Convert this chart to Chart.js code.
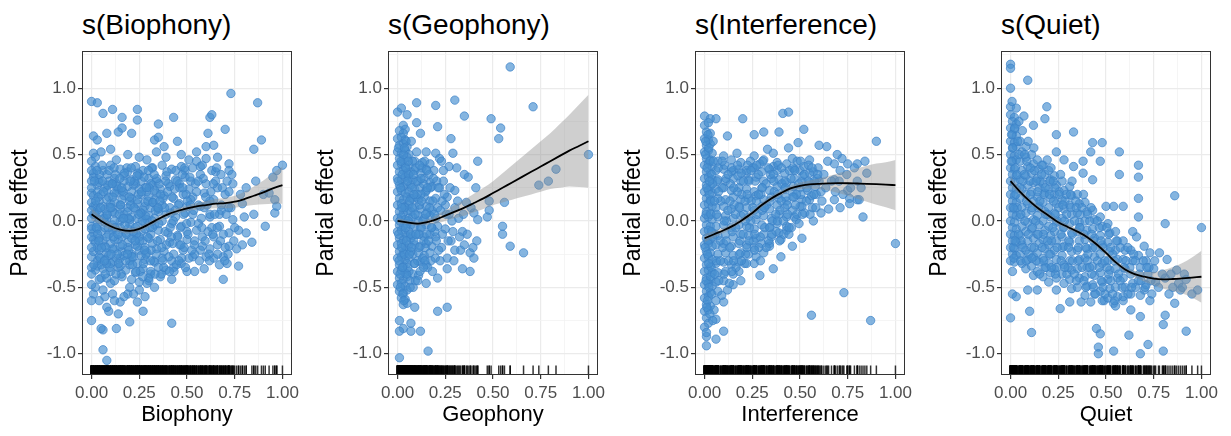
<!DOCTYPE html>
<html>
<head>
<meta charset="utf-8">
<script src="https://cdn.jsdelivr.net/npm/chart.js@4.4.1/dist/chart.umd.min.js"></script>
<style>
  body { margin: 0; background: #fff; width: 1231px; height: 436px; overflow: hidden; position: relative; font-family: "Liberation Sans", Arial, sans-serif; }
  .panel { position: absolute; top: 0; width: 300px; height: 436px; }
  .panel canvas { position: absolute; left: 0; top: 0; }
  .ttl { position: absolute; left: 82px; top: 11px; font-size: 28px; line-height: 28px; color: #000; white-space: nowrap; }
</style>
</head>
<body>
<div class="panel" style="left:0px"><div class="ttl" id="t1"></div><canvas id="c1" width="300" height="436"></canvas></div>
<div class="panel" style="left:306px"><div class="ttl" id="t2"></div><canvas id="c2" width="300" height="436"></canvas></div>
<div class="panel" style="left:613px"><div class="ttl" id="t3"></div><canvas id="c3" width="300" height="436"></canvas></div>
<div class="panel" style="left:919px"><div class="ttl" id="t4"></div><canvas id="c4" width="300" height="436"></canvas></div>
<script>
// panel texts
const panelTitles = ['s(Biophony)', 's(Geophony)', 's(Interference)', 's(Quiet)'];
const xTitles = ['Biophony', 'Geophony', 'Interference', 'Quiet'];
const yTitle = 'Partial effect';

// axes
const xTickVals = [0, 0.25, 0.5, 0.75, 1];
const xTickLabels = ['0.00', '0.25', '0.50', '0.75', '1.00'];
const xMinorVals = [0.125, 0.375, 0.625, 0.875];
const yTickVals = [-1, -0.5, 0, 0.5, 1];
const yTickLabels = ['-1.0', '-0.5', '0.0', '0.5', '1.0'];
const yMinorVals = [-0.75, -0.25, 0.25, 0.75, 1.25];

// smooth fits (read at every 0.05)
const smoothX = [0,0.05,0.1,0.15,0.2,0.25,0.3,0.35,0.4,0.45,0.5,0.55,0.6,0.65,0.7,0.75,0.8,0.85,0.9,0.95,1];

const bioFit   = [0.05,0.0,-0.04,-0.065,-0.075,-0.06,-0.025,0.015,0.05,0.075,0.095,0.11,0.12,0.13,0.135,0.145,0.165,0.19,0.215,0.245,0.27];
const bioUpper = [0.095,0.03,-0.015,-0.045,-0.055,-0.04,-0.005,0.035,0.07,0.095,0.115,0.135,0.15,0.165,0.175,0.19,0.22,0.26,0.305,0.36,0.41];
const bioLower = [0.005,-0.03,-0.065,-0.085,-0.095,-0.08,-0.045,-0.005,0.03,0.055,0.075,0.085,0.09,0.095,0.095,0.1,0.11,0.12,0.125,0.13,0.13];

const geoFit   = [0,-0.01,-0.02,-0.01,0.01,0.04,0.07,0.1,0.135,0.17,0.21,0.25,0.29,0.33,0.37,0.41,0.45,0.49,0.53,0.565,0.6];
const geoUpper = [0.02,0.005,-0.005,0.01,0.04,0.08,0.12,0.16,0.205,0.25,0.3,0.36,0.42,0.48,0.54,0.6,0.66,0.73,0.8,0.875,0.95];
const geoLower = [-0.02,-0.025,-0.035,-0.03,-0.02,0.0,0.02,0.04,0.065,0.09,0.12,0.14,0.16,0.18,0.2,0.22,0.24,0.25,0.26,0.255,0.25];

const intFit   = [-0.13,-0.1,-0.07,-0.035,0.01,0.06,0.12,0.17,0.21,0.245,0.265,0.275,0.28,0.283,0.285,0.284,0.282,0.28,0.277,0.273,0.27];
const intUpper = [-0.1,-0.075,-0.05,-0.015,0.03,0.08,0.14,0.19,0.23,0.265,0.29,0.305,0.32,0.338,0.36,0.379,0.397,0.415,0.432,0.443,0.46];
const intLower = [-0.16,-0.125,-0.09,-0.055,-0.01,0.04,0.1,0.15,0.19,0.225,0.24,0.245,0.24,0.228,0.21,0.189,0.167,0.145,0.122,0.103,0.08];

const quietFit   = [0.3,0.22,0.15,0.09,0.04,-0.01,-0.045,-0.08,-0.12,-0.175,-0.24,-0.31,-0.365,-0.4,-0.42,-0.435,-0.44,-0.437,-0.432,-0.426,-0.42];
const quietUpper = [0.335,0.245,0.17,0.11,0.06,0.01,-0.025,-0.06,-0.1,-0.155,-0.22,-0.29,-0.345,-0.375,-0.385,-0.385,-0.37,-0.347,-0.317,-0.276,-0.225];
const quietLower = [0.265,0.195,0.13,0.07,0.02,-0.03,-0.065,-0.1,-0.14,-0.195,-0.26,-0.33,-0.385,-0.425,-0.455,-0.485,-0.51,-0.527,-0.547,-0.576,-0.615];

// partial residuals [x, y]
const bioPoints = [
  [0,0.9],[0.03,0.89],[0.06,0.81],[0.11,0.84],[0.16,0.78],[0.24,0.84],[0.24,0.76],[0.35,0.73],[0.43,0.78],[0.62,0.78],[0.63,0.8],[0.73,0.96],[0.87,0.89],[0.89,0.61],[0.85,0.54],
  [0.97,0.38],[1,0.42],[0.95,0.33],[0.9,0.2],[0.93,0.21],[0.96,0.16],[0.97,0.11],[0.96,0.06],[0.91,-0.04],[0.85,0.05],[0.81,0.25],[0.86,0.3],[0.84,-0.16],[0.77,-0.34],[0.69,-0.44],
  [0.71,-0.32],[0.67,-0.33],[0.59,-0.36],[0.54,-0.38],[0.5,-0.38],[0.42,-0.44],[0.42,-0.77],[0.2,-0.76],[0.13,-0.81],[0.08,-1.05],[0.06,-0.97],[0.06,-0.82],[0.05,-0.81],[0,-0.75],
  [0.09,-0.68],[0.08,-0.65],[0.14,-0.7],[0.27,-0.68],[0.15,-0.61],[0.19,-0.55],[0.24,-0.61],[0.33,-0.5],[0.04,-0.6],[0.02,-0.5],[0.07,-0.57],[0.11,-0.55],[0.12,-0.6],[0.17,-0.57],[0.28,-0.57],[0.3,-0.45],
  [0.01,0.64],[0.03,0.61],[0.08,0.66],[0.14,0.67],[0.16,0.7],[0.21,0.66],[0.33,0.61],[0.35,0.63],[0.38,0.56],[0.45,0.6],[0.61,0.66],[0.7,0.69],[0.6,0.56],[0.64,0.57],[0.55,0.52],
  [0.66,0.48],[0.72,0.43],[0.72,0.38],[0.74,0.28],[0.71,0.3],[0.65,0.37],[0.78,0.2],[0.79,0.13],[0.8,0.03],[0.74,0.01],[0.77,-0.07],[0.72,-0.09],[0.81,-0.09],[0.79,-0.18],[0.76,-0.21],
  [0.72,-0.19],[0.69,-0.27],[0.64,-0.28],[0.62,-0.21],[0.58,-0.19],[0.66,-0.18],[0.67,-0.04],[0.68,0.08],[0.64,0.16],[0.59,0.21],[0.57,0.11],[0.62,0.03],[0.55,-0.07],[0.5,-0.14],
  [0.53,-0.27],[0.47,-0.32],[0.43,-0.35],[0.39,-0.37],[0.36,-0.42],[0.31,-0.4],[0.29,-0.47],[0.25,-0.52],[0.22,-0.55],[0.2,-0.5],[0.1,-0.47],[0.06,-0.52],[0.05,-0.43],[0.03,-0.34],
  [0,-0.27],[0.01,-0.14],[0,-0.04],[0.01,0.11],[0,0.21],[0.01,0.36],[0.01,0.51],[0.02,0.48],[0.05,0.52],[0.1,0.54],[0.13,0.46],[0.19,0.5],[0.25,0.48],[0.29,0.46],[0.34,0.52],
  [0.39,0.48],[0.47,0.5],[0.51,0.46],[0.53,0.4],[0.57,0.41],[0.49,0.38],
  [0.02,0.41],[0.06,0.38],[0.1,0.42],[0.15,0.39],[0.19,0.37],[0.23,0.41],[0.27,0.38],[0.32,0.4],[0.37,0.42],[0.42,0.39],[0.47,0.41],
  [0.01,0.33],[0.04,0.31],[0.08,0.35],[0.12,0.32],[0.17,0.34],[0.21,0.31],[0.25,0.35],[0.3,0.32],[0.34,0.3],[0.39,0.34],[0.44,0.31],[0.49,0.33],
  [0.03,0.27],[0.07,0.25],[0.11,0.28],[0.14,0.24],[0.19,0.26],[0.23,0.28],[0.28,0.25],[0.32,0.27],[0.36,0.24],[0.41,0.26],[0.46,0.28],[0.51,0.24],
  [0.01,0.19],[0.05,0.2],[0.09,0.18],[0.13,0.21],[0.17,0.19],[0.21,0.17],[0.26,0.2],[0.3,0.18],[0.34,0.21],[0.38,0.19],[0.43,0.17],[0.48,0.2],[0.53,0.18],
  [0.02,0.12],[0.06,0.11],[0.1,0.13],[0.15,0.12],[0.19,0.1],[0.24,0.13],[0.28,0.11],[0.32,0.14],[0.37,0.12],[0.41,0.1],[0.46,0.13],[0.5,0.11],
  [0.01,0.05],[0.04,0.06],[0.08,0.04],[0.12,0.06],[0.17,0.05],[0.21,0.03],[0.26,0.06],[0.3,0.04],[0.35,0.07],[0.39,0.05],[0.44,0.03],[0.49,0.06],
  [0.03,-0.02],[0.07,-0.01],[0.11,-0.03],[0.15,0],[0.2,-0.02],[0.24,-0.04],[0.28,-0.01],[0.33,-0.03],[0.37,0],[0.42,-0.02],[0.47,-0.04],[0.52,-0.01],
  [0.01,-0.09],[0.05,-0.08],[0.09,-0.1],[0.13,-0.07],[0.18,-0.09],[0.22,-0.11],[0.26,-0.08],[0.31,-0.1],[0.35,-0.07],[0.4,-0.09],[0.45,-0.11],[0.5,-0.08],
  [0.02,-0.16],[0.06,-0.15],[0.1,-0.17],[0.14,-0.14],[0.19,-0.16],[0.23,-0.18],[0.27,-0.15],[0.32,-0.17],[0.36,-0.14],[0.41,-0.16],[0.46,-0.18],
  [0.01,-0.23],[0.04,-0.22],[0.08,-0.24],[0.12,-0.21],[0.16,-0.23],[0.21,-0.25],[0.25,-0.22],[0.29,-0.24],[0.34,-0.21],[0.38,-0.23],[0.43,-0.25],[0.48,-0.22],
  [0.03,-0.3],[0.07,-0.29],[0.11,-0.31],[0.15,-0.28],[0.2,-0.3],[0.24,-0.32],[0.28,-0.29],[0.33,-0.31],[0.37,-0.28],[0.42,-0.3],
  [0.02,-0.37],[0.06,-0.36],[0.1,-0.38],[0.14,-0.35],[0.18,-0.37],[0.23,-0.39],[0.27,-0.36],[0.31,-0.38],[0.35,-0.35],
  [0.04,-0.44],[0.08,-0.43],[0.12,-0.45],[0.16,-0.42],[0.21,-0.44],[0.25,-0.46],[0.3,-0.43],
  [0.04,0.29],[0.09,0.3],[0.13,0.28],[0.17,0.3],[0.22,0.27],[0.26,0.3],[0.31,0.28],
  [0.03,0.22],[0.08,0.23],[0.12,0.21],[0.16,0.23],[0.21,0.22],[0.25,0.24],[0.29,0.22],[0.33,0.23],
  [0.04,0.15],[0.08,0.16],[0.12,0.14],[0.16,0.16],[0.2,0.15],[0.24,0.16],[0.28,0.14],[0.33,0.16],
  [0.03,0.08],[0.07,0.09],[0.11,0.07],[0.15,0.09],[0.19,0.07],[0.23,0.09],[0.27,0.08],[0.31,0.1],[0.35,0.09],
  [0.04,0.01],[0.08,0.02],[0.12,0],[0.16,0.02],[0.2,0.01],[0.24,0.02],[0.29,0.01],[0.33,0.02],
  [0.03,-0.06],[0.07,-0.05],[0.11,-0.07],[0.15,-0.05],[0.19,-0.06],[0.23,-0.05],[0.28,-0.06],[0.32,-0.05],
  [0.04,-0.13],[0.08,-0.12],[0.12,-0.14],[0.16,-0.12],[0.21,-0.13],[0.25,-0.12],[0.3,-0.13],
  [0.03,-0.2],[0.07,-0.19],[0.11,-0.21],[0.15,-0.19],[0.19,-0.2],[0.24,-0.19],[0.28,-0.2],
  [0.04,-0.27],[0.09,-0.26],[0.13,-0.28],[0.17,-0.26],[0.22,-0.27],[0.26,-0.26],
  [0.05,-0.33],[0.1,-0.32],[0.15,-0.34],[0.2,-0.33],
  [0,0.45],[0,0.38],[0,0.3],[0,0.25],[0,0.14],[0,0.08],[0,0.02],[0,-0.06],[0,-0.12],[0,-0.2],[0,-0.35],[0,-0.4],[0,-0.48],[0.01,-0.55],[0,-0.6],
  [0.52,0.3],[0.55,0.22],[0.57,0.35],[0.6,0.28],[0.62,0.15],[0.63,0.38],[0.66,0.25],[0.68,0.12],[0.7,0.2],[0.53,0.05],[0.56,-0.02],[0.59,0.1],[0.61,-0.08],[0.64,-0.12],[0.67,0.05],
  [0.54,-0.15],[0.57,-0.22],[0.6,-0.27],[0.63,-0.05],[0.55,0.45],[0.58,0.42],[0.6,0.47],[0.51,-0.28],[0.65,0.3],[0.69,-0.1],[0.73,0.1],[0.75,-0.05],[0.72,0.22],[0.52,0.16],
  [0.56,0.12],[0.58,-0.12],[0.62,0.05],[0.54,-0.25],[0.66,-0.25],[0.7,-0.2],
  [0.015,0.3],[0.025,-0.05],[0.035,0.18],[0.045,-0.28],[0.055,0.42],[0.065,0.02],[0.075,-0.2],[0.085,0.27],[0.095,-0.35],[0.105,0.1],[0.115,-0.12],[0.125,0.35],
  [0.135,-0.25],[0.145,0.05],[0.155,-0.4],[0.165,0.22],[0.175,-0.03],[0.185,0.4],[0.195,-0.22],[0.205,0.12],[0.215,-0.33],[0.225,0.3],[0.235,-0.1],[0.245,0.2],
  [0.255,-0.38],[0.265,0.0],[0.275,0.33],[0.285,-0.25],[0.295,0.15],[0.305,-0.05],[0.315,0.4],[0.325,-0.3],[0.335,0.08],[0.345,-0.15],[0.355,0.28],[0.365,-0.4],
  [0.375,0.17],[0.385,-0.08],[0.395,0.37],[0.405,-0.27],[0.415,0.06],[0.425,-0.17],[0.435,0.24],[0.445,-0.33],[0.455,0.12],[0.465,-0.05],[0.475,0.35],[0.485,-0.2],
  [0.495,0.2],[0.505,-0.1],[0.515,0.33],[0.525,-0.22],[0.535,0.08],[0.545,0.28],[0.565,-0.3],[0.575,0.02],[0.585,0.32],[0.595,-0.15],[0.605,0.12],[0.615,-0.25],
  [0.625,0.22],[0.635,-0.1],[0.645,0.05],[0.655,0.4],[0.675,-0.15],[0.685,0.25],[0.705,0.05],[0.715,-0.25],[0.735,0.35],[0.745,-0.15],
  [0.012,-0.33],[0.022,0.15],[0.032,-0.1],[0.042,0.35],[0.052,-0.2],[0.062,0.22],[0.072,-0.4],[0.082,0.05],[0.092,0.38],[0.102,-0.25],[0.112,0.18],[0.122,-0.05],
  [0.132,0.26],[0.142,-0.32],[0.152,0.12],[0.162,-0.18],[0.172,0.36],[0.182,-0.1],[0.192,0.02],[0.202,0.3],[0.212,-0.27],[0.222,0.1],[0.232,-0.38],[0.242,0.36],
  [0.252,-0.15],[0.262,0.22],[0.272,-0.32],[0.282,0.04],[0.292,-0.12],[0.302,0.25],[0.312,-0.22],[0.322,0.14],[0.332,-0.4],[0.342,0.32],[0.352,-0.02],[0.362,0.2],
  [0.372,-0.3],[0.382,0.1],[0.392,-0.18],[0.402,0.28],[0.412,-0.05],[0.422,0.18],[0.432,-0.38],[0.442,0.38],[0.452,-0.12],[0.462,0.25],[0.472,-0.28],[0.482,0.05],
  [0.492,-0.35],[0.502,0.15],
  [0.018,0.05],[0.038,-0.15],[0.058,0.3],[0.078,-0.32],[0.098,0.1],[0.118,0.4],[0.138,-0.1],[0.158,0.25],[0.178,-0.3],[0.198,0.18],[0.218,-0.08],[0.238,0.34],
  [0.258,0.06],[0.278,-0.22],[0.298,0.38],[0.318,0.0],[0.338,-0.25],[0.358,0.15],[0.378,-0.35],[0.398,0.22],[0.418,-0.12],[0.438,0.08],[0.458,-0.3],[0.478,0.25],
  [0.498,-0.02],[0.518,0.12],[0.538,-0.18],[0.558,0.3],[0.578,-0.05],[0.598,0.18],[0.618,-0.3],[0.638,0.28],[0.658,-0.05],[0.678,0.35],[0.698,-0.3],[0.718,0.1],
  [0.028,0.38],[0.048,0.1],[0.068,-0.3],[0.088,-0.05],[0.108,0.28],[0.128,-0.4],[0.148,0.32],[0.168,0.02],[0.188,-0.25],[0.208,0.4],[0.228,-0.15],[0.248,0.05],
  [0.268,-0.42],[0.288,0.25],[0.308,-0.3],[0.328,0.35],[0.348,0.1],[0.368,-0.2],[0.388,0.3],[0.408,-0.38],[0.428,0.0],[0.448,0.3],[0.468,-0.18],[0.488,0.4]
];

const geoPoints = [
  [0,0.82],[0.02,0.85],[0.05,0.8],[0.1,0.89],[0.2,0.87],[0.1,0.74],[0.12,0.66],[0.21,0.71],[0.3,0.91],[0.35,0.79],[0.59,1.16],[0.71,0.86],[0.49,0.77],[0.54,0.7],[0.53,0.62],
  [0.28,0.62],[0.1,0.52],[0.15,0.52],[0.2,0.51],[0.22,0.47],[0.29,0.51],[0.42,0.45],[0.27,0.41],[0.31,0.4],[0.35,0.35],[0.37,0.33],[0.3,0.23],[0.26,0.18],[0.36,0.14],[0.4,0.06],
  [0.42,0.01],[0.48,0.15],[0.48,0.08],[0.47,0.03],[0.56,0.14],[0.55,-0.04],[0.55,-0.1],[0.59,-0.19],[0.66,-0.24],[0.74,0.27],[0.79,0.3],[0.83,0.39],[1,0.5],[0.25,-0.06],
  [0.29,-0.08],[0.34,-0.08],[0.33,-0.22],[0.38,-0.24],[0.4,-0.28],[0.34,-0.36],[0.38,-0.38],[0.26,-0.36],[0.21,-0.43],[0.15,-0.47],[0.09,-0.65],[0.21,-0.68],[0.26,-0.65],
  [0.07,-0.77],[0.12,-0.83],[0.03,-0.81],[0.01,-0.83],[0.07,-0.83],[0.16,-0.98],[0.01,-1.03],[0.01,-0.75],
  [0.22,0.25],[0.24,0.3],[0.25,0.12],[0.27,0.05],[0.28,-0.15],[0.3,-0.22],[0.23,-0.2],[0.32,0.02],[0.3,0.1],[0.26,-0.28],[0.35,-0.18],[0.24,0.38],
  [0.03,0.72],[0.04,0.69],[0.19,0.38],[0.23,0.45],[0.17,0.43],
  [0.01,0.68],[0.03,0.66],[0,0.62],[0.02,0.63],[0.04,0.61],[0.01,0.57],[0.03,0.58],[0.05,0.56],[0,0.52],[0.02,0.51],[0.04,0.53],[0.06,0.5],
  [0.01,0.47],[0.03,0.46],[0.05,0.48],[0,0.42],[0.02,0.43],[0.04,0.41],[0.06,0.42],[0.01,0.37],[0.03,0.38],[0.05,0.36],[0.07,0.37],
  [0,0.32],[0.02,0.31],[0.04,0.33],[0.06,0.32],[0.01,0.27],[0.03,0.26],[0.05,0.28],[0.07,0.27],[0,0.22],[0.02,0.23],[0.04,0.21],[0.06,0.22],
  [0.01,0.17],[0.03,0.16],[0.05,0.18],[0.07,0.17],[0,0.12],[0.02,0.13],[0.04,0.11],[0.06,0.12],[0.01,0.07],[0.03,0.06],[0.05,0.08],[0.07,0.07],
  [0,0.02],[0.02,0.03],[0.04,0.01],[0.06,0.02],[0.01,-0.03],[0.03,-0.04],[0.05,-0.02],[0.07,-0.03],[0,-0.08],[0.02,-0.07],[0.04,-0.09],[0.06,-0.08],
  [0.01,-0.13],[0.03,-0.14],[0.05,-0.12],[0.07,-0.13],[0,-0.18],[0.02,-0.17],[0.04,-0.19],[0.06,-0.18],[0.01,-0.23],[0.03,-0.24],[0.05,-0.22],[0.07,-0.23],
  [0,-0.28],[0.02,-0.27],[0.04,-0.29],[0.06,-0.28],[0.01,-0.33],[0.03,-0.34],[0.05,-0.32],[0,-0.38],[0.02,-0.37],[0.04,-0.39],[0.06,-0.38],
  [0.01,-0.43],[0.03,-0.44],[0.05,-0.42],[0,-0.48],[0.02,-0.47],[0.04,-0.49],[0.01,-0.53],[0.03,-0.54],[0.05,-0.52],[0.02,-0.58],[0.04,-0.59],[0.03,-0.63],[0.05,-0.62],
  [0.09,0.45],[0.13,0.44],[0.09,0.38],[0.12,0.36],[0.15,0.39],[0.08,0.31],[0.11,0.3],[0.14,0.32],[0.17,0.29],[0.09,0.24],[0.12,0.25],[0.15,0.23],[0.18,0.26],
  [0.08,0.17],[0.11,0.16],[0.14,0.18],[0.17,0.15],[0.2,0.17],[0.09,0.1],[0.12,0.09],[0.15,0.11],[0.18,0.08],[0.21,0.1],
  [0.08,0.03],[0.11,0.04],[0.14,0.02],[0.17,0.04],[0.2,0.02],[0.09,-0.04],[0.12,-0.05],[0.15,-0.03],[0.18,-0.05],[0.21,-0.04],
  [0.08,-0.11],[0.11,-0.1],[0.14,-0.12],[0.17,-0.1],[0.2,-0.12],[0.09,-0.18],[0.12,-0.19],[0.15,-0.17],[0.18,-0.19],
  [0.08,-0.25],[0.11,-0.24],[0.14,-0.26],[0.17,-0.24],[0.09,-0.32],[0.12,-0.31],[0.15,-0.33],[0.08,-0.4],[0.11,-0.41],
  [0.005,0.55],[0.015,-0.5],[0.025,0.35],[0.035,-0.25],[0.045,0.6],[0.055,0.0],[0.065,-0.45],[0.075,0.25],[0.085,-0.15],[0.095,0.4],[0.105,-0.3],[0.115,0.12],
  [0.125,-0.05],[0.135,0.28],[0.145,-0.2],[0.155,0.06],[0.165,0.35],[0.175,-0.3],[0.185,0.15],[0.195,-0.08],[0.205,0.3],[0.215,-0.22],[0.225,0.08],[0.235,-0.1],[0.245,0.2],
  [0.008,-0.3],[0.018,0.45],[0.028,-0.55],[0.038,0.1],[0.048,-0.4],[0.058,0.35],[0.068,-0.1],[0.078,0.45],[0.088,-0.32],[0.098,0.18],[0.108,0.0],[0.118,-0.38],
  [0.128,0.4],[0.138,-0.15],[0.148,0.22],[0.158,-0.35],[0.168,0.1],[0.178,-0.05],[0.188,0.32],[0.198,-0.28],
  [0.012,0.0],[0.022,-0.2],[0.032,0.5],[0.042,-0.05],[0.052,0.3],[0.062,-0.25],[0.072,0.6],[0.082,-0.5],[0.092,0.05],[0.102,0.3],[0.112,-0.2],[0.122,0.2],
  [0.132,-0.28],[0.142,0.45],[0.152,-0.1],
  [0.255,0.05],[0.265,-0.15],[0.275,0.25],[0.285,0.0],[0.295,-0.3],[0.315,0.15],[0.325,-0.12],[0.345,0.05],[0.365,-0.1],[0.385,0.1],[0.395,-0.2],[0.415,-0.15],[0.41,0.25],
  [0.003,0.3],[0.013,-0.4],[0.023,0.1],[0.033,-0.6],[0.043,0.4],[0.053,-0.35],[0.063,0.15],[0.073,-0.2],[0.083,0.35],[0.093,-0.45],[0.103,0.2],[0.113,-0.1],
  [0.123,0.32],[0.133,0.0],[0.143,-0.3],[0.153,0.38],[0.163,-0.15],[0.173,0.25],[0.183,-0.38],[0.193,0.05],[0.203,-0.15],[0.213,0.25],[0.223,-0.3],[0.233,0.15],
  [0.006,-0.1],[0.016,0.25],[0.026,-0.35],[0.036,0.55],[0.046,-0.15],[0.056,0.45],[0.066,-0.5],[0.076,0.1],[0.086,0.2],[0.096,-0.1],[0.106,-0.45],[0.116,0.42],
  [0.126,0.15],[0.136,-0.35],[0.146,0.05],[0.156,0.25]
];

const intPoints = [
  [0,0.79],[0.03,0.77],[0.06,0.77],[0.12,0.64],[0.2,0.77],[0.26,0.65],[0.31,0.67],[0.41,0.81],[0.44,0.82],[0.39,0.67],[0.52,0.69],[0.9,0.6],[1,-0.17],[0.73,-0.54],[0.56,-0.71],
  [0.87,-0.75],[0.06,-0.89],[0.1,-0.83],[0.01,-0.94],[0.01,-0.87],[0.1,-0.61],[0.29,-0.41],[0.36,-0.36],[0.4,-0.27],[0.46,-0.19],[0.51,-0.13],[0.57,0],[0.61,0.06],[0.65,0.09],
  [0.76,0.17],[0.76,0.13],[0.8,0.16],[0.83,0.03],[0.81,0.16],[0.75,0.23],[0.8,0.43],[0.75,0.43],[0.85,0.36],[0.8,0.3],[0.72,0.47],[0.68,0.43],[0.64,0.56],[0.6,0.57],[0.55,0.46],
  [0.55,0.36],[0.68,0.31],[0.71,0.38],[0.6,0.3],[0.61,0.22],[0.68,0.16],[0.71,0.1],[0.55,0.16],[0.5,0.11],[0.47,0.03],[0.43,-0.07],[0.4,-0.14],[0.34,-0.17],[0.31,-0.24],
  [0.26,-0.32],[0.21,-0.32],[0.19,-0.45],[0.15,-0.48],[0.12,-0.52],[0.33,0.54],[0.36,0.51],[0.44,0.55],[0.49,0.59],[0.26,0.49],[0.17,0.51],[0.1,0.49],[0.15,0.38],[0.22,0.36],
  [0.29,0.43],[0.36,0.41],[0.43,0.43],[0.5,0.38],
  [0,0.72],[0.02,0.74],[0.01,0.67],[0.03,0.66],[0,0.62],[0.02,0.61],[0.01,0.57],[0.03,0.58],[0,0.52],[0.02,0.53],[0.04,0.51],[0.01,0.47],[0.03,0.46],
  [0,0.42],[0.02,0.43],[0.04,0.41],[0.01,0.37],[0.03,0.36],[0,0.32],[0.02,0.33],[0.04,0.31],[0.01,0.27],[0.03,0.26],[0,0.22],[0.02,0.23],[0.04,0.21],
  [0.01,0.17],[0.03,0.16],[0,0.12],[0.02,0.13],[0.04,0.11],[0.01,0.07],[0.03,0.06],[0,0.02],[0.02,0.03],[0.04,0.01],[0.01,-0.03],[0.03,-0.04],
  [0,-0.08],[0.02,-0.07],[0.04,-0.09],[0.01,-0.13],[0.03,-0.14],[0,-0.18],[0.02,-0.17],[0.04,-0.19],[0.01,-0.23],[0.03,-0.24],[0,-0.28],[0.02,-0.27],[0.04,-0.29],
  [0.01,-0.33],[0.03,-0.34],[0,-0.38],[0.02,-0.37],[0.04,-0.39],[0.01,-0.43],[0.03,-0.44],[0,-0.48],[0.02,-0.47],[0.04,-0.49],[0.01,-0.53],[0.03,-0.54],
  [0,-0.58],[0.02,-0.57],[0.01,-0.63],[0.03,-0.64],[0,-0.68],[0.02,-0.67],[0.01,-0.73],[0.02,-0.77],[0,-0.8],[0.01,-0.84],
  [0.07,0.45],[0.14,0.46],[0.19,0.44],[0.24,0.45],[0.31,0.46],[0.38,0.44],[0.46,0.47],
  [0.06,0.38],[0.1,0.39],[0.14,0.37],[0.18,0.39],[0.22,0.38],[0.26,0.4],[0.3,0.37],[0.34,0.39],[0.38,0.38],[0.42,0.36],[0.47,0.39],[0.52,0.41],[0.57,0.37],
  [0.07,0.31],[0.11,0.3],[0.15,0.32],[0.19,0.3],[0.23,0.31],[0.27,0.33],[0.31,0.3],[0.35,0.32],[0.39,0.31],[0.43,0.29],[0.47,0.32],[0.51,0.3],[0.55,0.29],[0.59,0.32],
  [0.06,0.24],[0.1,0.25],[0.14,0.23],[0.18,0.25],[0.22,0.24],[0.26,0.22],[0.3,0.25],[0.34,0.23],[0.38,0.26],[0.42,0.24],[0.46,0.22],[0.5,0.25],[0.54,0.23],[0.58,0.26],
  [0.07,0.17],[0.11,0.16],[0.15,0.18],[0.19,0.16],[0.23,0.17],[0.27,0.19],[0.31,0.16],[0.35,0.18],[0.39,0.17],[0.43,0.15],[0.47,0.18],[0.51,0.16],[0.56,0.19],
  [0.06,0.1],[0.1,0.11],[0.14,0.09],[0.18,0.11],[0.22,0.1],[0.26,0.08],[0.3,0.11],[0.34,0.09],[0.38,0.12],[0.42,0.1],[0.46,0.08],[0.51,0.11],
  [0.07,0.03],[0.11,0.04],[0.15,0.02],[0.19,0.04],[0.23,0.03],[0.27,0.01],[0.31,0.04],[0.35,0.02],[0.39,0.05],[0.43,0.03],[0.48,0.01],
  [0.06,-0.04],[0.1,-0.03],[0.14,-0.05],[0.18,-0.03],[0.22,-0.04],[0.26,-0.06],[0.3,-0.03],[0.34,-0.05],[0.38,-0.02],[0.43,-0.04],
  [0.07,-0.11],[0.11,-0.1],[0.15,-0.12],[0.19,-0.1],[0.23,-0.11],[0.27,-0.13],[0.31,-0.1],[0.35,-0.12],[0.39,-0.09],
  [0.06,-0.18],[0.1,-0.17],[0.14,-0.19],[0.18,-0.17],[0.22,-0.18],[0.26,-0.2],[0.3,-0.17],[0.34,-0.19],
  [0.07,-0.25],[0.11,-0.24],[0.15,-0.26],[0.19,-0.24],[0.23,-0.25],[0.27,-0.27],
  [0.06,-0.32],[0.1,-0.31],[0.14,-0.33],[0.18,-0.31],[0.22,-0.32],[0.07,-0.39],[0.11,-0.38],[0.15,-0.4],[0.18,-0.38],
  [0.06,-0.46],[0.1,-0.45],[0.13,-0.47],[0.07,-0.53],[0.09,-0.56],[0.06,-0.6],[0.05,-0.67],[0.06,-0.74],
  [0.005,0.5],[0.015,-0.6],[0.025,0.2],[0.035,-0.35],[0.045,0.6],[0.055,-0.1],[0.065,0.3],[0.075,-0.45],[0.085,0.15],[0.095,-0.2],[0.105,0.42],[0.115,0.0],
  [0.125,-0.3],[0.135,0.28],[0.145,-0.08],[0.155,0.12],[0.165,-0.35],[0.175,0.34],[0.185,-0.15],[0.195,0.2],[0.205,0.05],[0.215,-0.25],[0.225,0.42],[0.235,-0.05],
  [0.245,0.15],[0.255,-0.15],[0.265,0.3],[0.275,0.05],[0.285,-0.2],[0.295,0.2],[0.305,0.45],[0.315,-0.05],[0.325,0.12],[0.335,-0.15],[0.345,0.35],[0.355,0.0],
  [0.365,0.22],[0.375,-0.08],[0.385,0.42],[0.395,0.08],[0.405,0.28],[0.415,-0.1],[0.425,0.18],[0.435,0.05],[0.445,0.38],[0.455,-0.05],[0.465,0.26],[0.475,0.12],
  [0.485,0.45],[0.495,-0.02],[0.505,0.2],[0.515,0.34],[0.525,0.06],[0.535,0.25],[0.545,0.42],[0.565,0.1],[0.575,0.3],[0.585,0.2],[0.595,0.4],[0.615,0.15],
  [0.625,0.35],[0.635,0.25],[0.645,0.45],[0.665,0.3],[0.685,0.22],[0.695,0.5],[0.705,0.3],[0.725,0.2],[0.745,0.35],[0.765,0.25],[0.785,0.4],[0.82,0.25],[0.84,0.45],
  [0.008,-0.45],[0.018,0.65],[0.028,-0.7],[0.038,0.35],[0.008,0.05],[0.018,-0.15],[0.028,0.45],[0.038,-0.55],[0.012,0.25],[0.022,-0.32],[0.032,0.15],[0.042,-0.12],
  [0.012,-0.65],[0.022,0.55],[0.032,-0.42],[0.042,0.28],
  [0.052,0.15],[0.062,-0.3],[0.072,0.4],[0.082,-0.15],[0.092,0.25],[0.102,-0.4],[0.112,0.32],[0.122,0.08],[0.132,-0.2],[0.142,0.4],[0.152,-0.3],[0.162,0.05],
  [0.172,0.22],[0.182,-0.25],[0.192,0.36],[0.202,-0.1],[0.212,0.15],[0.222,-0.2],[0.232,0.3],[0.242,0.0],[0.252,0.4],[0.262,-0.22],[0.272,0.15],[0.282,0.35],
  [0.292,-0.12],[0.302,0.08],[0.322,0.28],[0.342,-0.05],[0.362,0.35],[0.382,0.0],[0.402,0.15],[0.422,0.3],[0.442,-0.1],[0.462,0.4],[0.482,0.2],
  [0.003,-0.2],[0.013,0.4],[0.023,-0.5],[0.033,0.05],[0.043,-0.75],[0.006,0.6],[0.016,-0.25],[0.026,0.3],[0.036,-0.08],[0.046,0.45],[0.053,-0.4],[0.063,0.05],
  [0.073,0.22],[0.083,-0.3],[0.093,0.45],[0.103,0.0],[0.113,-0.15],[0.123,0.35],[0.133,0.15],[0.143,-0.38],[0.153,0.25],[0.163,-0.05],[0.173,0.42],[0.183,0.1],
  [0.193,-0.3],[0.203,0.3],[0.213,0.0],[0.223,0.2],[0.233,-0.15],[0.243,0.38],[0.253,0.1],[0.263,-0.1],[0.273,0.42],[0.283,0.2],[0.293,-0.3],[0.303,0.25],
  [0.313,0.1],[0.323,-0.2],[0.333,0.4],[0.343,0.15],[0.353,-0.1],[0.363,0.3],[0.373,0.05],[0.383,0.2],[0.393,-0.15],[0.403,0.4],[0.413,0.0],[0.423,0.25],
  [0.433,0.12],[0.443,-0.05],[0.453,0.32],[0.463,0.18],[0.473,0.38],[0.483,0.05],[0.493,0.28],[0.503,0.45],[0.513,0.05],[0.523,0.35],[0.533,0.15],[0.543,0.3],
  [0.553,0.05],[0.563,0.4],[0.573,0.2],[0.583,0.1],[0.593,0.35]
];

const quietPoints = [
  [0,1.18],[0,1.15],[0,1.0],[0.09,1.06],[0,0.86],[0.03,0.85],[0.19,0.86],[0.18,0.77],[0.07,0.79],[0.12,0.72],[0.24,0.65],[0.33,0.67],[0.43,0.59],[0.48,0.59],[0.57,0.52],
  [0.47,0.45],[0.57,0.35],[0.67,0.42],[0.67,0.33],[0.67,0.17],[0.67,0.03],[0.86,0.19],[0.81,-0.02],[1,-0.05],[0,-0.73],[0.01,-0.55],[0.03,-0.57],[0.1,-0.68],[0.11,-0.84],
  [0.26,-0.66],[0.45,-0.81],[0.47,-0.85],[0.46,-0.95],[0.46,-1.0],[0.54,-0.98],[0.62,-0.86],[0.68,-1.0],[0.72,-0.93],[0.8,-0.98],[0.8,-0.78],[0.81,-0.71],[0.92,-0.83],
  [0.86,-0.62],[0.98,-0.52],[0.89,-0.52],[0.92,-0.44],[0.87,-0.37],[0.82,-0.29],[0.81,-0.43],[0.78,-0.24],[0.73,-0.24],[0.7,-0.19],[0.66,-0.12],[0.64,-0.08],[0.59,0.11],
  [0.54,0.11],[0.5,0.11],[0.7,-0.52],[0.73,-0.6],[0.68,-0.72],[0.63,-0.67],[0.59,-0.6],[0.54,-0.62],[0.49,-0.6],[0.42,-0.61],[0.37,-0.61],[0.31,-0.61],[0.24,-0.52],
  [0.14,-0.52],[0.09,-0.52],[0.42,0.52],[0.38,0.45],[0.33,0.41],[0.28,0.46],[0.24,0.52],[0.38,0.36],[0.43,0.31],[0.84,-0.4],[0.88,-0.47],[0.85,-0.5],[0.9,-0.5],
  [0,0.8],[0.02,0.78],[0.01,0.75],[0.03,0.73],[0,0.7],[0.02,0.69],[0.01,0.65],[0.03,0.64],[0,0.6],[0.02,0.59],[0.01,0.55],[0.03,0.56],[0,0.5],[0.02,0.49],
  [0.01,0.45],[0.03,0.46],[0,0.4],[0.02,0.39],[0.01,0.35],[0.03,0.34],[0,0.3],[0.02,0.29],[0.01,0.25],[0.03,0.24],[0,0.2],[0.02,0.19],[0.01,0.15],[0.03,0.14],
  [0,0.1],[0.02,0.09],[0.01,0.05],[0.03,0.04],[0,0],[0.02,-0.01],[0.01,-0.05],[0.03,-0.06],[0,-0.1],[0.02,-0.11],[0.01,-0.15],[0.03,-0.16],[0,-0.2],[0.02,-0.21],
  [0.01,-0.25],[0.03,-0.26],[0,-0.3],[0.02,-0.31],[0.01,-0.38],
  [0.05,0.6],[0.06,0.52],[0.05,0.45],[0.06,0.38],[0.05,0.31],[0.06,0.24],[0.05,0.17],[0.06,0.1],[0.05,0.03],[0.06,-0.04],[0.05,-0.11],[0.06,-0.18],[0.05,-0.25],[0.06,-0.32],
  [0.08,0.56],[0.08,0.48],[0.09,0.41],[0.08,0.34],[0.09,0.27],[0.08,0.2],[0.09,0.13],[0.08,0.06],[0.09,-0.01],[0.08,-0.08],[0.09,-0.15],[0.08,-0.22],[0.09,-0.29],[0.08,-0.36],
  [0.11,0.5],[0.12,0.43],[0.11,0.36],[0.12,0.29],[0.11,0.22],[0.12,0.15],[0.11,0.08],[0.12,0.01],[0.11,-0.06],[0.12,-0.13],[0.11,-0.2],[0.12,-0.27],[0.11,-0.34],[0.12,-0.41],
  [0.14,0.46],[0.15,0.39],[0.14,0.32],[0.15,0.25],[0.14,0.18],[0.15,0.11],[0.14,0.04],[0.15,-0.03],[0.14,-0.1],[0.15,-0.17],[0.14,-0.24],[0.15,-0.31],[0.14,-0.38],
  [0.17,0.42],[0.18,0.35],[0.17,0.28],[0.18,0.21],[0.17,0.14],[0.18,0.07],[0.17,0],[0.18,-0.07],[0.17,-0.14],[0.18,-0.21],[0.17,-0.28],[0.18,-0.35],[0.17,-0.42],
  [0.2,0.38],[0.21,0.31],[0.2,0.24],[0.21,0.17],[0.2,0.1],[0.21,0.03],[0.2,-0.04],[0.21,-0.11],[0.2,-0.18],[0.21,-0.25],[0.2,-0.32],[0.21,-0.39],[0.2,-0.46],
  [0.23,0.34],[0.24,0.27],[0.23,0.2],[0.24,0.13],[0.23,0.06],[0.24,-0.01],[0.23,-0.08],[0.24,-0.15],[0.23,-0.22],[0.24,-0.29],[0.23,-0.36],[0.24,-0.43],
  [0.27,0.3],[0.28,0.23],[0.27,0.16],[0.28,0.09],[0.27,0.02],[0.28,-0.05],[0.27,-0.12],[0.28,-0.19],[0.27,-0.26],[0.28,-0.33],[0.27,-0.4],[0.28,-0.47],
  [0.31,0.26],[0.32,0.19],[0.31,0.12],[0.32,0.05],[0.31,-0.02],[0.32,-0.09],[0.31,-0.16],[0.32,-0.23],[0.31,-0.3],[0.32,-0.37],[0.31,-0.44],[0.32,-0.51],
  [0.35,0.2],[0.36,0.13],[0.35,0.06],[0.36,-0.01],[0.35,-0.08],[0.36,-0.15],[0.35,-0.22],[0.36,-0.29],[0.35,-0.36],[0.36,-0.43],[0.35,-0.5],
  [0.39,0.14],[0.4,0.07],[0.39,0],[0.4,-0.07],[0.39,-0.14],[0.4,-0.21],[0.39,-0.28],[0.4,-0.35],[0.39,-0.42],[0.4,-0.49],[0.39,-0.56],
  [0.43,0.08],[0.44,0.01],[0.43,-0.06],[0.44,-0.13],[0.43,-0.2],[0.44,-0.27],[0.43,-0.34],[0.44,-0.41],[0.43,-0.48],[0.44,-0.55],
  [0.47,0.03],[0.48,-0.04],[0.47,-0.11],[0.48,-0.18],[0.47,-0.25],[0.48,-0.32],[0.47,-0.39],[0.48,-0.46],[0.47,-0.53],[0.48,-0.6],
  [0.51,-0.02],[0.52,-0.09],[0.51,-0.16],[0.52,-0.23],[0.51,-0.3],[0.52,-0.37],[0.51,-0.44],[0.52,-0.51],[0.51,-0.58],
  [0.55,-0.08],[0.56,-0.15],[0.55,-0.22],[0.56,-0.29],[0.55,-0.36],[0.56,-0.43],[0.55,-0.5],[0.56,-0.57],[0.55,-0.64],
  [0.59,-0.15],[0.6,-0.22],[0.59,-0.29],[0.6,-0.36],[0.59,-0.43],[0.6,-0.5],[0.59,-0.57],
  [0.63,-0.22],[0.64,-0.3],[0.63,-0.4],[0.64,-0.47],[0.63,-0.55],[0.67,-0.26],[0.68,-0.35],[0.67,-0.45],[0.68,-0.56],
  [0.71,-0.3],[0.72,-0.4],[0.71,-0.48],[0.75,-0.36],[0.76,-0.46],[0.74,-0.55],
  [0.005,0.65],[0.015,-0.2],[0.025,0.4],[0.035,0.1],[0.045,0.5],[0.055,-0.15],[0.065,0.3],[0.075,0.0],[0.085,0.45],[0.095,-0.25],[0.105,0.2],[0.115,-0.05],
  [0.125,0.38],[0.135,-0.3],[0.145,0.1],[0.155,0.3],[0.165,-0.2],[0.175,0.2],[0.185,-0.35],[0.195,0.05],[0.205,0.3],[0.215,-0.15],[0.225,0.15],[0.235,-0.4],
  [0.245,0.0],[0.255,0.22],[0.265,-0.3],[0.275,-0.05],[0.285,0.15],[0.295,-0.4],[0.305,-0.15],[0.315,0.1],[0.325,-0.3],[0.335,0.0],[0.345,-0.45],[0.355,-0.2],
  [0.365,0.05],[0.375,-0.35],[0.385,-0.1],[0.395,-0.5],[0.405,-0.25],[0.415,0.0],[0.425,-0.4],[0.435,-0.15],[0.445,-0.55],[0.455,-0.3],[0.465,-0.05],[0.475,-0.45],
  [0.485,-0.2],[0.495,-0.55],[0.505,-0.35],[0.515,-0.1],[0.525,-0.45],[0.535,-0.25],[0.545,-0.6],[0.565,-0.4],[0.575,-0.2],[0.585,-0.5],[0.605,-0.3],[0.615,-0.55],
  [0.625,-0.35],[0.645,-0.25],[0.655,-0.5],[0.675,-0.4],[0.695,-0.3],[0.705,-0.5],[0.725,-0.35],[0.735,-0.45],[0.755,-0.3],[0.775,-0.5],[0.795,-0.4],[0.83,-0.55],
  [0.91,-0.4],[0.95,-0.55],
  [0.008,0.9],[0.012,0.55],[0.018,-0.28],[0.022,0.7],[0.028,0.2],[0.038,0.6],[0.042,-0.1],[0.048,0.25],[0.052,-0.3],[0.062,0.68],[0.072,0.35],[0.082,-0.3],
  [0.092,0.6],[0.102,0.3],[0.112,-0.28],[0.122,0.55],[0.132,0.0],[0.142,0.22],[0.152,-0.4],[0.162,0.35],[0.172,-0.1],[0.182,0.25],[0.192,0.46],[0.202,-0.25],
  [0.212,0.4],[0.222,-0.05],[0.232,0.25],[0.242,-0.35],[0.252,0.1],[0.262,0.35],[0.272,-0.2],[0.282,0.0],[0.292,0.2],[0.302,-0.35],[0.322,0.3],[0.342,0.15],
  [0.362,-0.05],[0.382,0.2],[0.402,-0.3],[0.422,0.1],
  [0.004,0.45],[0.014,0.1],[0.024,-0.15],[0.034,0.35],[0.044,0.75],[0.054,0.05],[0.064,-0.2],[0.074,0.5],[0.084,0.15],[0.094,-0.1],[0.104,0.4],[0.114,0.1],
  [0.124,-0.2],[0.134,0.3],[0.144,-0.1],[0.154,0.15],[0.164,0.42],[0.174,-0.3],[0.184,0.05],[0.194,-0.15],[0.204,0.2],[0.214,-0.35],[0.224,0.3],[0.234,0.05],
  [0.244,-0.2],[0.254,0.2],[0.264,-0.1],[0.274,0.12],[0.284,-0.35],[0.294,0.05],[0.304,-0.2],[0.314,0.2],[0.324,-0.1],[0.334,-0.4],[0.344,0.1],[0.354,-0.3],
  [0.364,-0.05],[0.374,0.1],[0.384,-0.45],[0.394,-0.2],[0.404,0.05],[0.414,-0.35],[0.424,-0.1],[0.434,-0.5],[0.444,-0.2],[0.454,0.0],[0.464,-0.35],[0.474,-0.15],
  [0.484,-0.5],[0.494,-0.3],[0.504,-0.05],[0.514,-0.4],[0.524,-0.2],[0.534,-0.55],[0.544,-0.3],[0.554,-0.15],[0.574,-0.45],[0.594,-0.35],[0.614,-0.2],[0.634,-0.5],
  [0.654,-0.3],[0.684,-0.45],[0.714,-0.35]
];

const FONT = '"Liberation Sans", Arial, sans-serif';
const near = (v, list) => list.findIndex(t => Math.abs(t - v) < 1e-6);

// rug along the bottom edge, one tick per observation
const rugPlugin = {
  id: 'rug',
  afterDatasetsDraw(chart) {
    const { ctx, chartArea: a, scales: { x } } = chart;
    const pts = chart.data.datasets[3].data;
    ctx.save();
    ctx.beginPath();
    ctx.rect(a.left, a.top, a.right - a.left, a.bottom - a.top);
    ctx.clip();
    ctx.strokeStyle = 'rgba(0,0,0,0.8)';
    ctx.lineWidth = 1.5;
    pts.forEach(p => {
      const px = x.getPixelForValue(p.x);
      ctx.beginPath();
      ctx.moveTo(px, a.bottom - 9.5);
      ctx.lineTo(px, a.bottom);
      ctx.stroke();
    });
    ctx.restore();
  }
};

const panelBorder = {
  id: 'panelBorder',
  afterDraw(chart) {
    const { ctx, chartArea: a } = chart;
    ctx.save();
    ctx.strokeStyle = '#333333';
    ctx.lineWidth = 1;
    ctx.strokeRect(a.left + 0.5, a.top + 0.5, a.right - a.left - 1, a.bottom - a.top - 1);
    ctx.restore();
  }
};

function makePanel(n, points, fit, lower, upper) {
  document.getElementById('t' + n).textContent = panelTitles[n - 1];
  const xy = arr => smoothX.map((x, i) => ({ x, y: arr[i] }));
  const majorX = v => near(v, xTickVals) >= 0;
  const majorY = v => near(v, yTickVals) >= 0;

  new Chart(document.getElementById('c' + n), {
    type: 'scatter',
    data: {
      datasets: [
        { type: 'line', data: xy(fit), borderColor: '#000', borderWidth: 1.8, pointRadius: 0,
          cubicInterpolationMode: 'monotone', fill: false },
        { type: 'line', data: xy(upper), borderColor: 'rgba(0,0,0,0)', borderWidth: 0, pointRadius: 0,
          cubicInterpolationMode: 'monotone', fill: '+1', backgroundColor: 'rgba(140,140,140,0.42)' },
        { type: 'line', data: xy(lower), borderColor: 'rgba(0,0,0,0)', borderWidth: 0, pointRadius: 0,
          cubicInterpolationMode: 'monotone', fill: false },
        { data: points.map(p => ({ x: p[0], y: p[1] })), pointRadius: 4.2, borderWidth: 1,
          backgroundColor: 'rgba(70,143,208,0.66)', borderColor: 'rgba(60,130,200,0.7)' }
      ]
    },
    options: {
      responsive: false,
      animation: false,
      events: [],
      layout: { padding: { top: 51, right: 8, left: 0, bottom: 0 } },
      plugins: { legend: { display: false }, tooltip: { enabled: false } },
      scales: {
        x: {
          type: 'linear', min: -0.05, max: 1.05,
          afterBuildTicks: s => { s.ticks = xTickVals.concat(xMinorVals).sort((a, b) => a - b).map(v => ({ value: v })); },
          afterFit: s => { s.height = 61; s.paddingLeft = 0; s.paddingRight = 0; },
          border: { display: false },
          grid: {
            color: c => (c.tick && majorX(c.tick.value)) ? '#ebebeb' : '#f3f3f3',
            lineWidth: c => (c.tick && majorX(c.tick.value)) ? 1.2 : 0.8,
            tickLength: 4,
            tickColor: c => (c.tick && majorX(c.tick.value)) ? '#333333' : 'rgba(0,0,0,0)'
          },
          ticks: {
            autoSkip: false, maxRotation: 0, padding: 4, color: '#4d4d4d',
            font: { family: FONT, size: 17 },
            callback: v => { const i = near(v, xTickVals); return i >= 0 ? xTickLabels[i] : ''; }
          },
          title: { display: true, text: xTitles[n - 1], color: '#000', font: { family: FONT, size: 22 }, padding: { top: 0, bottom: 8 } }
        },
        y: {
          type: 'linear', min: -1.16, max: 1.28,
          afterBuildTicks: s => { s.ticks = yTickVals.concat(yMinorVals).sort((a, b) => a - b).map(v => ({ value: v })); },
          afterFit: s => { s.width = 82; s.paddingTop = 0; s.paddingBottom = 0; },
          border: { display: false },
          grid: {
            color: c => (c.tick && majorY(c.tick.value)) ? '#ebebeb' : '#f3f3f3',
            lineWidth: c => (c.tick && majorY(c.tick.value)) ? 1.2 : 0.8,
            tickLength: 4,
            tickColor: c => (c.tick && majorY(c.tick.value)) ? '#333333' : 'rgba(0,0,0,0)'
          },
          ticks: {
            autoSkip: false, padding: 2, color: '#4d4d4d',
            font: { family: FONT, size: 17 },
            callback: v => { const i = near(v, yTickVals); return i >= 0 ? yTickLabels[i] : ''; }
          },
          title: { display: true, text: yTitle, color: '#000', font: { family: FONT, size: 23 }, padding: { top: 7, bottom: 0 } }
        }
      }
    },
    plugins: [rugPlugin, panelBorder]
  });
}

makePanel(1, bioPoints, bioFit, bioLower, bioUpper);
makePanel(2, geoPoints, geoFit, geoLower, geoUpper);
makePanel(3, intPoints, intFit, intLower, intUpper);
makePanel(4, quietPoints, quietFit, quietLower, quietUpper);
</script>
</body>
</html>
